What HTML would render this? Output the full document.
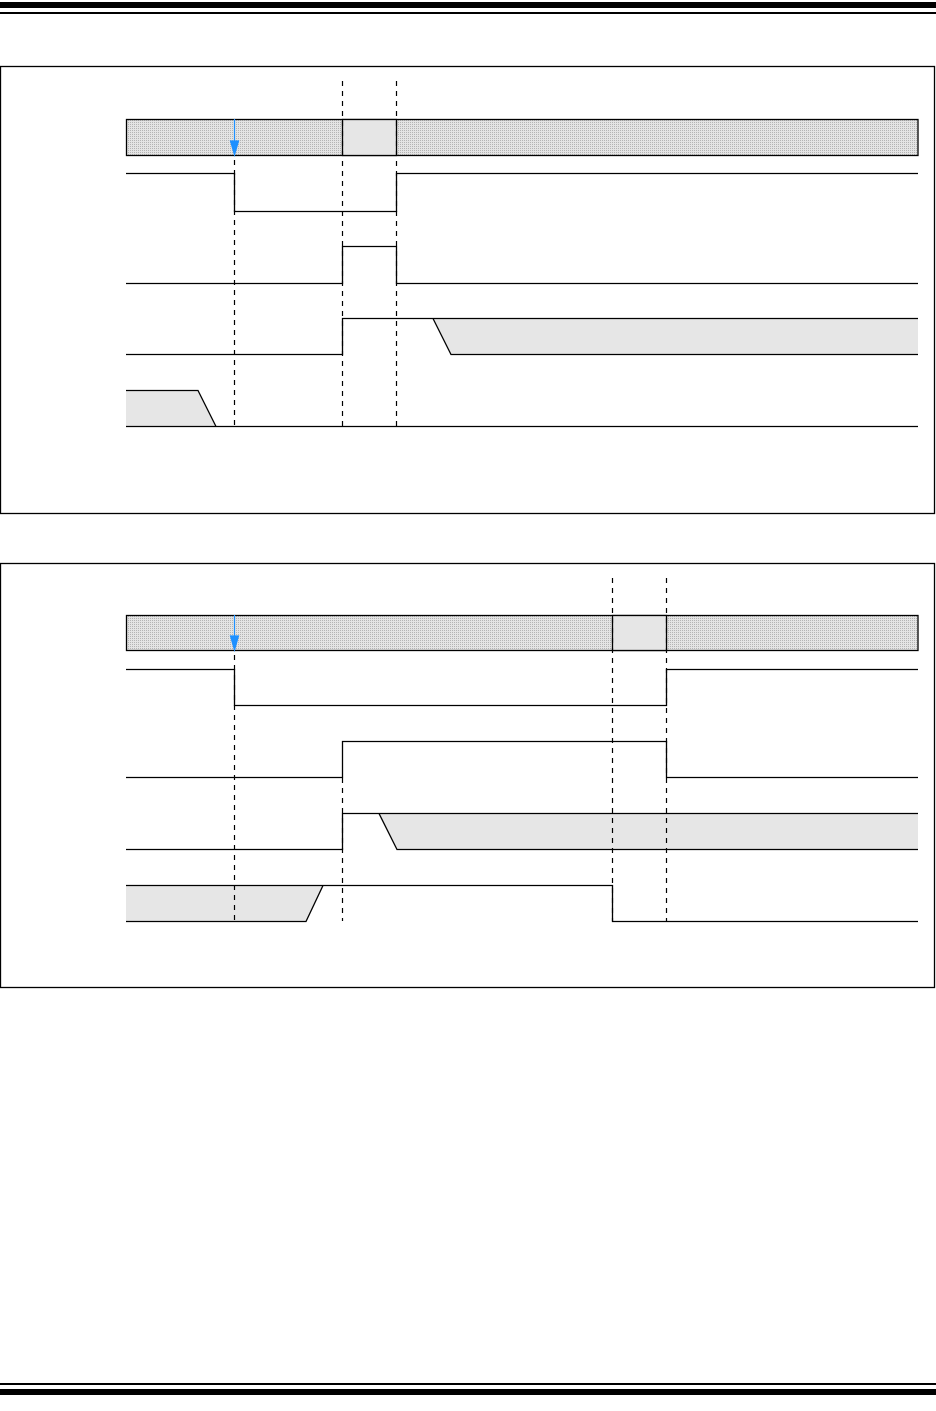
<!DOCTYPE html>
<html><head><style>html,body{margin:0;padding:0;background:#fff}svg{display:block}</style></head><body>
<svg width="936" height="1411" viewBox="0 0 936 1411" xmlns="http://www.w3.org/2000/svg">
<defs>
<pattern id="h" width="2" height="2" patternUnits="userSpaceOnUse">
<rect width="2" height="2" fill="#e4e4e4"/><rect width="1" height="1" fill="#b4b4b4"/>
</pattern>
</defs>
<rect x="0" y="2" width="936" height="6" fill="#000"/>
<rect x="0" y="12" width="936" height="2" fill="#000"/>
<rect x="0" y="1383" width="936" height="2" fill="#000"/>
<rect x="0" y="1389" width="936" height="6" fill="#000"/>

<g fill="none" stroke="#000" stroke-width="1.3">
<rect x="0.5" y="66.5" width="934" height="447"/>
<rect x="126.5" y="119.5" width="791.5" height="36" fill="url(#h)"/>
<rect x="342.5" y="119.5" width="54" height="36" fill="#e6e6e6"/>
<polyline points="126,173.5 234.5,173.5 234.5,211.5 396.5,211.5 396.5,173.5 918,173.5"/>
<polyline points="126,283.5 342.5,283.5 342.5,246.5 396.5,246.5 396.5,283.5 918,283.5"/>
<polygon points="433,318.5 918,318.5 918,354.5 451,354.5" fill="#e6e6e6" stroke="none"/>
<polyline points="126,354.5 342.5,354.5 342.5,318.5 918,318.5"/>
<polyline points="433,318.5 451,354.5 918,354.5"/>
<polygon points="126,390.5 198,390.5 216,426.5 126,426.5" fill="#e6e6e6" stroke="none"/>
<polyline points="126,390.5 198,390.5 216,426.5"/>
<line x1="126" y1="426.5" x2="918" y2="426.5"/>

<rect x="0.5" y="563.5" width="934" height="424"/>
<rect x="126.5" y="615.5" width="791.5" height="35" fill="url(#h)"/>
<rect x="612.5" y="615.5" width="54" height="35" fill="#e6e6e6"/>
<polyline points="126,669.5 234.5,669.5 234.5,705.5 666.5,705.5 666.5,669.5 918,669.5"/>
<polyline points="126,777.5 342.5,777.5 342.5,741.5 666.5,741.5 666.5,777.5 918,777.5"/>
<polygon points="379,813.5 918,813.5 918,849.5 397,849.5" fill="#e6e6e6" stroke="none"/>
<polyline points="126,849.5 342.5,849.5 342.5,813.5 918,813.5"/>
<polyline points="379,813.5 397,849.5 918,849.5"/>
<polygon points="126,885.5 323,885.5 306,921.5 126,921.5" fill="#e6e6e6" stroke="none"/>
<polyline points="126,885.5 612.5,885.5 612.5,921.5 918,921.5"/>
<polyline points="126,921.5 306,921.5 323,885.5"/>
</g>
<g stroke="#000" stroke-width="1.2" stroke-dasharray="5,5" fill="none">
<line x1="234.5" y1="160" x2="234.5" y2="426"/>
<line x1="342.5" y1="81" x2="342.5" y2="426"/>
<line x1="396.5" y1="81" x2="396.5" y2="426"/>
<line x1="234.5" y1="655" x2="234.5" y2="921"/>
<line x1="342.5" y1="778" x2="342.5" y2="921"/>
<line x1="612.5" y1="578" x2="612.5" y2="921"/>
<line x1="666.5" y1="578" x2="666.5" y2="921"/>
</g>
<g stroke="#1e90ff" fill="#1e90ff" stroke-width="1.2">
<line x1="234.5" y1="119" x2="234.5" y2="148"/>
<polygon points="230.5,141 238.5,141 234.5,155"/>
<line x1="234.5" y1="615" x2="234.5" y2="643"/>
<polygon points="230.5,636 238.5,636 234.5,650"/>
</g>
</svg>
</body></html>
